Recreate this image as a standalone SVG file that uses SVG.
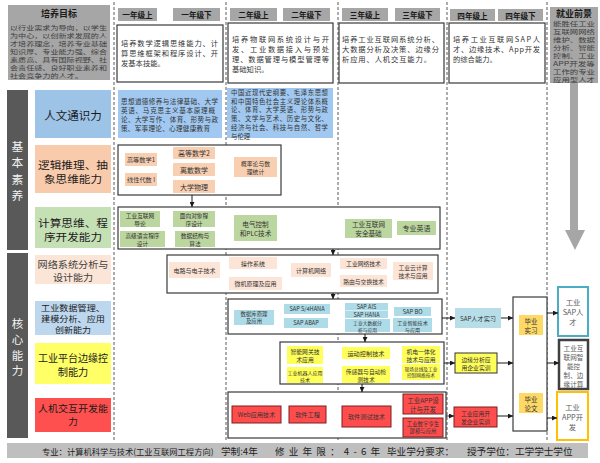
<svg xmlns="http://www.w3.org/2000/svg" width="600" height="463" viewBox="0 0 600 463">
<defs>
<marker id="ah" viewBox="0 0 6 6" refX="6" refY="3" markerWidth="5" markerHeight="5" markerUnits="userSpaceOnUse" orient="auto"><path d="M0,0 L6,3 L0,6 z" fill="#1a1a1a"/></marker>
<style>
text{font-family:"Noto Sans CJK SC","Noto Sans",sans-serif;dominant-baseline:central}
.hd{fill:#a6a6a6}
.ht{font-size:7.6px;font-weight:bold;fill:#1a1a1a;text-anchor:middle}
.wb{fill:#fff;stroke:#3a3a3a;stroke-width:1.2}
.dl{stroke:#808080;stroke-width:1.3;stroke-dasharray:3 2;fill:none}
.dt{font-size:7.3px;fill:#333}
.gt{font-size:5.9px;fill:#404040}
.bt{fill:#333}
.c{font-size:6.2px;fill:#333;text-anchor:middle}
.lb{font-size:10.3px;fill:#1a1a1a;text-anchor:middle}
.vt{font-size:11.8px;fill:#f2f2f2;text-anchor:middle}
.cn{stroke:#1a1a1a;stroke-width:1;fill:none;marker-end:url(#ah)}
.pe{fill:#f9cfb2}
.lp{fill:#fce4d6}
.gr{fill:#bcd69f}
.bl{fill:#addbe8}
.ye{fill:#ffff5a}
.rd{fill:#ff4d4d;stroke:#7f1f1f;stroke-width:1}
.gd{fill:#ffd966}
.ot{font-size:7.3px;fill:#595959;text-anchor:middle}
.ft{font-size:9.6px;fill:#222}
</style>
</defs>

<!-- dashed column separators -->
<g id="columns">
<line class="dl" x1="114" y1="2" x2="114" y2="441"/>
<line class="dl" x1="226" y1="2" x2="226" y2="441"/>
<line class="dl" x1="338" y1="2" x2="338" y2="441"/>
<line class="dl" x1="447" y1="2" x2="447" y2="441"/>
<line class="dl" x1="547" y1="2" x2="547" y2="441"/>
</g>

<g id="goal">
<rect class="hd" x="8" y="5" width="102" height="75"/>
<text x="59" y="13.5" class="ht" style="font-size:9px">培养目标</text>
<text class="gt">
<tspan x="10" y="26.5" textLength="97" lengthAdjust="spacingAndGlyphs">以行业需求为导向，以学生</tspan>
<tspan x="10" y="34.6" textLength="97" lengthAdjust="spacingAndGlyphs">为中心，以创新求发展的人</tspan>
<tspan x="10" y="42.7" textLength="97" lengthAdjust="spacingAndGlyphs">才培养理念，培养专业基础</tspan>
<tspan x="10" y="50.8" textLength="97" lengthAdjust="spacingAndGlyphs">知识厚、专业能力强、综合</tspan>
<tspan x="10" y="58.9" textLength="97" lengthAdjust="spacingAndGlyphs">素质高、具有国际视野、社</tspan>
<tspan x="10" y="67" textLength="97" lengthAdjust="spacingAndGlyphs">会责任感、良好职业素养和</tspan>
<tspan x="10" y="75.1" textLength="73" lengthAdjust="spacingAndGlyphs">社会竞争力的人才。</tspan>
</text>
</g>

<g id="headers">
<rect class="hd" x="118" y="8" width="39" height="13"/><text class="ht" x="137.5" y="14.5">一年级上</text>
<rect class="hd" x="173" y="8" width="47" height="13"/><text class="ht" x="196.5" y="14.5">一年级下</text>
<rect class="hd" x="230" y="8" width="47" height="13"/><text class="ht" x="253.5" y="14.5">二年级上</text>
<rect class="hd" x="283" y="8" width="47" height="13"/><text class="ht" x="306.5" y="14.5">二年级下</text>
<rect class="hd" x="342" y="8" width="46" height="13"/><text class="ht" x="365" y="14.5">三年级上</text>
<rect class="hd" x="395" y="8" width="45" height="13"/><text class="ht" x="417.5" y="14.5">三年级下</text>
<rect class="hd" x="450" y="9" width="45" height="12"/><text class="ht" x="472.5" y="15">四年级上</text>
<rect class="hd" x="498" y="9" width="45" height="12"/><text class="ht" x="520.5" y="15">四年级下</text>
</g>

<g id="y1desc">
<rect class="wb" x="117" y="25" width="106" height="57"/>
<text class="dt"><tspan x="121" y="43" textLength="97">培养数学逻辑思维能力、计</tspan><tspan x="121" y="53" textLength="97">算思维框架和程序设计、开</tspan><tspan x="121" y="63">发基本技能。</tspan></text>
</g>
<g id="y2desc">
<rect class="wb" x="228" y="23" width="105" height="60"/>
<text class="dt"><tspan x="232" y="39" textLength="97">培养物联网系统设计与开</tspan><tspan x="232" y="49" textLength="97">发、工业数据接入与预处</tspan><tspan x="232" y="59" textLength="97">理、数据管理与模型管理等</tspan><tspan x="232" y="69">基础知识。</tspan></text>
</g>
<g id="y3desc">
<rect class="wb" x="339" y="23" width="105" height="60"/>
<text class="dt"><tspan x="342" y="39" textLength="97">培养工业互联网系统分析、</tspan><tspan x="342" y="49" textLength="97">大数据分析及决策、边缘分</tspan><tspan x="342" y="59" textLength="89">析应用、人机交互能力。</tspan></text>
</g>
<g id="y4desc">
<rect class="wb" x="449" y="23" width="96" height="60"/>
<text class="dt"><tspan x="453" y="38.5" textLength="87">培养工业互联网SAP人</tspan><tspan x="453" y="48.5" textLength="87">才、边缘技术、App开发</tspan><tspan x="453" y="58.5">的综合能力。</tspan></text>
</g>

<g id="career">
<rect class="hd" x="550" y="7" width="48" height="76"/>
<text class="ht" x="574" y="13" style="font-size:9px">就业前景</text>
<text class="gt" style="font-size:5.8px">
<tspan x="553" y="23" textLength="42" lengthAdjust="spacingAndGlyphs">能胜任工业</tspan><tspan x="553" y="31" textLength="42" lengthAdjust="spacingAndGlyphs">互联网网络</tspan><tspan x="553" y="39" textLength="42" lengthAdjust="spacingAndGlyphs">维护、数据</tspan><tspan x="553" y="47" textLength="42" lengthAdjust="spacingAndGlyphs">分析、智能</tspan><tspan x="553" y="55" textLength="42" lengthAdjust="spacingAndGlyphs">控制、工业</tspan><tspan x="553" y="63" textLength="42" lengthAdjust="spacingAndGlyphs">APP开发等</tspan><tspan x="553" y="71" textLength="42" lengthAdjust="spacingAndGlyphs">工作的专业</tspan><tspan x="553" y="79" textLength="42" lengthAdjust="spacingAndGlyphs">应用型人才</tspan>
</text>
<path d="M570,83 H578 V230 H585 L575,250 L565,230 H570 Z" fill="#a6a6a6"/>
</g>

<g id="barBasic">
<rect x="7" y="90" width="21" height="160" fill="#595959"/>
<text class="vt"><tspan x="17.5" y="145">基</tspan><tspan x="17.5" y="161.3">本</tspan><tspan x="17.5" y="177.6">素</tspan><tspan x="17.5" y="194">养</tspan></text>
</g>
<g id="barCore">
<rect x="7" y="253" width="21" height="185" fill="#595959"/>
<text class="vt" style="font-size:11.5px"><tspan x="17.5" y="323">核</tspan><tspan x="17.5" y="338.8">心</tspan><tspan x="17.5" y="354.6">能</tspan><tspan x="17.5" y="370.4">力</tspan></text>
</g>

<!-- row labels -->
<g id="lbl1"><rect x="35" y="90" width="76" height="48" fill="#9dc3e6"/><text class="lb" x="73" y="115" style="font-size:11.5px">人文通识力</text></g>
<g id="lbl2"><rect x="35" y="145" width="76" height="48" fill="#f8cbad"/><text class="lb"><tspan x="73" y="163.5" textLength="70" lengthAdjust="spacingAndGlyphs">逻辑推理、抽</tspan><tspan x="73" y="177.5" textLength="58" lengthAdjust="spacingAndGlyphs">象思维能力</tspan></text></g>
<g id="lbl3"><rect x="35" y="207" width="76" height="41" fill="#c5e0b4"/><text class="lb"><tspan x="73" y="221.5" textLength="70" lengthAdjust="spacingAndGlyphs">计算思维、程</tspan><tspan x="73" y="235.5" textLength="58" lengthAdjust="spacingAndGlyphs">序开发能力</tspan></text></g>
<g id="lbl4"><rect x="35" y="255" width="76" height="29" fill="#fbe5d6"/><text class="lb" style="font-size:9.5px;fill:#404040"><tspan x="73" y="263.5" textLength="71" lengthAdjust="spacingAndGlyphs">网络系统分析与</tspan><tspan x="73" y="276.5" textLength="40" lengthAdjust="spacingAndGlyphs">设计能力</tspan></text></g>
<g id="lbl5"><rect x="35" y="301" width="76" height="34" fill="#bdd7ee"/><text class="lb" style="font-size:8.1px"><tspan x="73" y="307" textLength="64" lengthAdjust="spacingAndGlyphs">工业数据管理、</tspan><tspan x="73" y="318" textLength="64" lengthAdjust="spacingAndGlyphs">建模分析、应用</tspan><tspan x="73" y="329" textLength="36" lengthAdjust="spacingAndGlyphs">创新能力</tspan></text></g>
<g id="lbl6"><rect x="35" y="343" width="76" height="41" fill="#ffff66"/><text class="lb" style="font-size:10.2px"><tspan x="73" y="357" textLength="70" lengthAdjust="spacingAndGlyphs">工业平台边缘控</tspan><tspan x="73" y="371">制能力</tspan></text></g>
<g id="lbl7"><rect x="35" y="398" width="76" height="34" fill="#ff5050"/><text class="lb" style="font-size:9.5px"><tspan x="73" y="408" textLength="70" lengthAdjust="spacingAndGlyphs">人机交互开发能</tspan><tspan x="73" y="421">力</tspan></text></g>

<!-- row 1 -->
<g id="gen1"><rect x="118" y="90" width="104" height="48" fill="#a0c8f0"/>
<text class="bt" style="font-size:6.6px"><tspan x="121" y="101" textLength="97">思想道德修养与法律基础、大学</tspan><tspan x="121" y="110" textLength="94">英语、马克思主义基本原理概</tspan><tspan x="121" y="119" textLength="97">论、大学写作、体育、形势与政</tspan><tspan x="121" y="128" textLength="89">策、军事理论、心理健康教育</tspan></text></g>
<g id="gen2"><rect x="227" y="88" width="106" height="50" fill="#a0c8f0"/>
<text class="bt" style="font-size:6.4px"><tspan x="231" y="92" textLength="97">中国近现代史纲要、毛泽东思想</tspan><tspan x="231" y="100.7" textLength="97">和中国特色社会主义理论体系概</tspan><tspan x="231" y="109.4" textLength="97">论、体育、大学英语、形势与政</tspan><tspan x="231" y="118.1" textLength="97">策、文学与艺术、历史与文化、</tspan><tspan x="231" y="126.8" textLength="97">经济与社会、科技与自然、哲学</tspan><tspan x="231" y="135.5">与伦理</tspan></text></g>

<!-- row 2 -->
<g id="math">
<rect class="wb" x="118" y="145" width="163" height="50"/>
<rect class="pe" x="125" y="153" width="32" height="13"/><text class="c" x="141" y="159.5">高等数学1</text>
<rect class="pe" x="125" y="173" width="32" height="13"/><text class="c" x="141" y="179.5">线性代数 I</text>
<rect class="pe" x="173" y="147" width="42" height="12"/><text class="c" x="194" y="153" style="font-size:7px">高等数学2</text>
<rect class="pe" x="173" y="163" width="42" height="13"/><text class="c" x="194" y="169.5" style="font-size:7px">离散数学</text>
<rect class="pe" x="173" y="180" width="42" height="13"/><text class="c" x="194" y="186.5" style="font-size:7px">大学物理</text>
<rect class="pe" x="234" y="157" width="43" height="20"/><text class="c" style="font-size:5.8px"><tspan x="255.5" y="163">概率论与数</tspan><tspan x="255.5" y="171">理统计</tspan></text>
</g>

<!-- row 3 -->
<g id="prog">
<rect class="wb" x="118" y="207" width="322" height="42"/>
<rect class="gr" x="120" y="211" width="40" height="16"/><text class="c" style="font-size:5.7px"><tspan x="140" y="215.1">工业互联网</tspan><tspan x="140" y="222.9">导论</tspan></text>
<rect class="gr" x="120" y="231" width="45" height="16"/><text class="c" style="font-size:5.7px"><tspan x="142.5" y="235.1">高级语言程序</tspan><tspan x="142.5" y="242.9">设计</tspan></text>
<rect class="gr" x="173" y="211" width="42" height="16"/><text class="c" style="font-size:5.7px"><tspan x="194" y="215.1">面向对象程</tspan><tspan x="194" y="222.9">序设计</tspan></text>
<rect class="gr" x="175" y="231" width="40" height="16"/><text class="c" style="font-size:5.7px"><tspan x="195" y="235.1">数据结构与</tspan><tspan x="195" y="242.9">算法</tspan></text>
<rect class="gr" x="234" y="215" width="43" height="26"/><text class="c" style="font-size:6.6px"><tspan x="255.5" y="223.5">电气控制</tspan><tspan x="255.5" y="232.5">和PLC技术</tspan></text>
<rect class="gr" x="345" y="219" width="47" height="19"/><text class="c" style="font-size:6.6px"><tspan x="368.5" y="224">工业互联网</tspan><tspan x="368.5" y="233">安全基础</tspan></text>
<rect class="gr" x="397" y="221" width="39" height="14"/><text class="c" x="416.5" y="228" style="font-size:7px">专业英语</text>
</g>

<!-- row 4 -->
<g id="net">
<rect class="wb" x="167" y="255" width="271" height="38"/>
<rect class="lp" x="169" y="262" width="51" height="16"/><text class="c" x="194.5" y="270" style="font-size:6px">电路与电子技术</text>
<rect class="lp" x="229" y="257" width="48" height="12"/><text class="c" x="253" y="263" style="font-size:6px">操作系统</text>
<rect class="lp" x="229" y="277" width="53" height="13"/><text class="c" x="255.5" y="283.5" style="font-size:6px">微机原理及应用</text>
<rect class="lp" x="291" y="263" width="40" height="14"/><text class="c" x="311" y="270" style="font-size:6px">计算机网络</text>
<rect class="lp" x="340" y="258" width="47" height="11"/><text class="c" x="363.5" y="263.5" style="font-size:5.8px">工业网络技术</text>
<rect class="lp" x="340" y="275" width="47" height="12"/><text class="c" x="363.5" y="281" style="font-size:5.8px">路由与交换技术</text>
<rect class="lp" x="393" y="262" width="40" height="18"/><text class="c" style="font-size:5.8px"><tspan x="413" y="267">工业云计算</tspan><tspan x="413" y="275">技术与应用</tspan></text>
</g>

<!-- row 5 -->
<g id="data">
<rect class="wb" x="228" y="299" width="214" height="35"/>
<rect class="bl" x="234" y="310" width="40" height="15"/><text class="c" style="font-size:5.4px"><tspan x="254" y="313.8">数据库原理</tspan><tspan x="254" y="321.2">及应用</tspan></text>
<rect class="bl" x="284" y="304" width="46" height="10"/><text class="c" x="307" y="309" style="font-size:5.6px">SAP S/4HANA</text>
<rect class="bl" x="284" y="318" width="44" height="10"/><text class="c" x="306" y="323" style="font-size:5.6px">SAP ABAP</text>
<rect class="bl" x="345" y="303" width="43" height="7.5"/><text class="c" x="366.5" y="306.8" style="font-size:5.5px">SAP AIS</text>
<rect class="bl" x="345" y="311" width="43" height="7"/><text class="c" x="366.5" y="314.5" style="font-size:5.5px">SAP HANA</text>
<rect class="bl" x="345" y="319" width="45" height="13"/><text class="c" style="font-size:4.8px"><tspan x="367.5" y="322.2">工业大数据分</tspan><tspan x="367.5" y="328.8">析与应用</tspan></text>
<rect class="bl" x="394" y="307" width="37" height="9"/><text class="c" x="412.5" y="311.5" style="font-size:5.8px">SAP BO</text>
<rect class="bl" x="393" y="318" width="39" height="14"/><text class="c" style="font-size:5.1px"><tspan x="412.5" y="321.5">工业智能技术</tspan><tspan x="412.5" y="328.5">与应用</tspan></text>
</g>

<!-- row 6 -->
<g id="edge">
<rect class="wb" x="280" y="342" width="164" height="42"/>
<rect class="ye" x="287" y="346" width="36" height="18"/><text class="c" style="font-size:5.8px"><tspan x="305" y="351">智能网关技</tspan><tspan x="305" y="359">术应用</tspan></text>
<rect class="ye" x="287" y="367" width="36" height="16"/><text class="c" style="font-size:5px"><tspan x="305" y="371.5">工业机器人应用</tspan><tspan x="305" y="378.5">技术</tspan></text>
<rect class="ye" x="342" y="347" width="48" height="12"/><text class="c" x="366" y="353">运动控制技术</text>
<rect class="ye" x="342" y="366" width="48" height="17"/><text class="c" style="font-size:5.8px"><tspan x="366" y="370.5">传感器与自动检</tspan><tspan x="366" y="378.5">测技术</tspan></text>
<rect class="ye" x="402" y="346" width="38" height="17"/><text class="c" style="font-size:5.8px"><tspan x="421" y="350.5">机电一体化</tspan><tspan x="421" y="358.5">技术与应用</tspan></text>
<rect class="ye" x="402" y="364" width="38" height="16"/><text class="c" style="font-size:4.7px"><tspan x="421" y="368.5">现场总线及工业</tspan><tspan x="421" y="375">控制网络技术</tspan></text>
</g>

<!-- row 7 -->
<g id="hci">
<rect class="wb" x="228" y="392" width="218" height="46"/>
<rect class="rd" x="232" y="406" width="49" height="17"/><text class="c" x="256.5" y="414.5">Web应用技术</text>
<rect class="rd" x="289" y="406" width="37" height="17"/><text class="c" x="307.5" y="414.5">软件工程</text>
<rect class="rd" x="342" y="406" width="49" height="21"/><text class="c" x="366.5" y="416.5">软件测试技术</text>
<rect class="rd" x="403" y="394" width="40" height="20"/><text class="c" style="font-size:6.5px"><tspan x="423" y="399.5">工业APP设</tspan><tspan x="423" y="408.5">计与开发</tspan></text>
<rect class="rd" x="403" y="418" width="40" height="19"/><text class="c" style="font-size:5.4px"><tspan x="423" y="423.5">工业数字孪生</tspan><tspan x="423" y="431">建模与应用</tspan></text>
</g>

<!-- practice -->
<g id="sapIntern"><rect x="455" y="308" width="46" height="20" fill="#b7dee8"/><text class="c" x="478" y="318">SAP人才实习</text></g>
<g id="edgeIntern"><rect x="455" y="353" width="42" height="20" fill="#ffff5a" stroke="#333" stroke-width="1"/><text class="c" style="font-size:5.8px"><tspan x="476" y="359">边缘分析应</tspan><tspan x="476" y="367">用企业实训</tspan></text></g>
<g id="appIntern"><rect class="rd" x="454" y="407" width="43" height="20"/><text class="c" style="font-size:5.8px"><tspan x="475.5" y="413">工业应用开</tspan><tspan x="475.5" y="421">发企业实训</tspan></text></g>

<g id="graduation">
<rect class="wb" x="513" y="297" width="34" height="134"/>
<rect class="gd" x="519" y="315" width="24" height="20"/><text class="c" style="font-size:6.5px"><tspan x="531" y="320.5">毕业</tspan><tspan x="531" y="329.5">实习</tspan></text>
<rect class="gd" x="519" y="393" width="24" height="20"/><text class="c" style="font-size:6.5px"><tspan x="531" y="398.5">毕业</tspan><tspan x="531" y="407.5">论文</tspan></text>
</g>

<g id="outSAP"><rect x="558" y="287" width="30" height="49" fill="#fff" stroke="#4bacc6" stroke-width="2"/><text class="ot"><tspan x="573" y="302">工业</tspan><tspan x="573" y="312">SAP人</tspan><tspan x="573" y="322">才</tspan></text></g>
<g id="outEdge"><rect x="559" y="340" width="29" height="49" fill="#fff" stroke="#404040" stroke-width="2.5"/><text class="ot" style="font-size:6.6px"><tspan x="573.5" y="347.5">工业互</tspan><tspan x="573.5" y="356.5">联网智</tspan><tspan x="573.5" y="365.5">能控</tspan><tspan x="573.5" y="374.5">制、边</tspan><tspan x="573.5" y="383.5">缘计算</tspan></text></g>
<g id="outApp"><rect x="557" y="392" width="31" height="48" fill="#fff" stroke="#ffc000" stroke-width="2"/><text class="ot"><tspan x="572.5" y="406.5">工业</tspan><tspan x="572.5" y="416.5">APP开</tspan><tspan x="572.5" y="426.5">发</tspan></text></g>

<g id="connectors">
<line class="cn" x1="192" y1="195" x2="192" y2="207"/>
<line class="cn" x1="333" y1="249" x2="333" y2="255"/>
<line class="cn" x1="333" y1="293" x2="333" y2="299"/>
<line class="cn" x1="365" y1="334" x2="365" y2="342"/>
<line class="cn" x1="362" y1="384" x2="362" y2="392"/>
<line class="cn" x1="442" y1="318" x2="455" y2="318"/>
<line class="cn" x1="501" y1="318" x2="513" y2="318"/>
<line class="cn" x1="444" y1="363" x2="455" y2="363"/>
<line class="cn" x1="497" y1="363" x2="513" y2="363"/>
<line class="cn" x1="446" y1="416" x2="454" y2="416"/>
<line class="cn" x1="497" y1="416" x2="513" y2="416"/>
<line class="cn" x1="547" y1="313" x2="558" y2="313"/>
<line class="cn" x1="547" y1="363" x2="559" y2="363"/>
<line class="cn" x1="547" y1="418" x2="557" y2="418"/>
</g>

<g id="footer">
<rect x="7" y="443" width="581" height="15" fill="#bfbfbf"/>
<text class="ft" x="42" y="450.5" style="font-size:8.3px">专业：计算机科学与技术(工业互联网工程方向)</text>
<text class="ft" x="221" y="450.5">学制:4年</text>
<text class="ft" x="275" y="450.5" textLength="105">修业年限：4-6年</text>
<text class="ft" x="387" y="450.5">毕业学分要求：</text>
<text class="ft" x="467" y="450.5">授予学位：工学学士学位</text>
</g>
</svg>
